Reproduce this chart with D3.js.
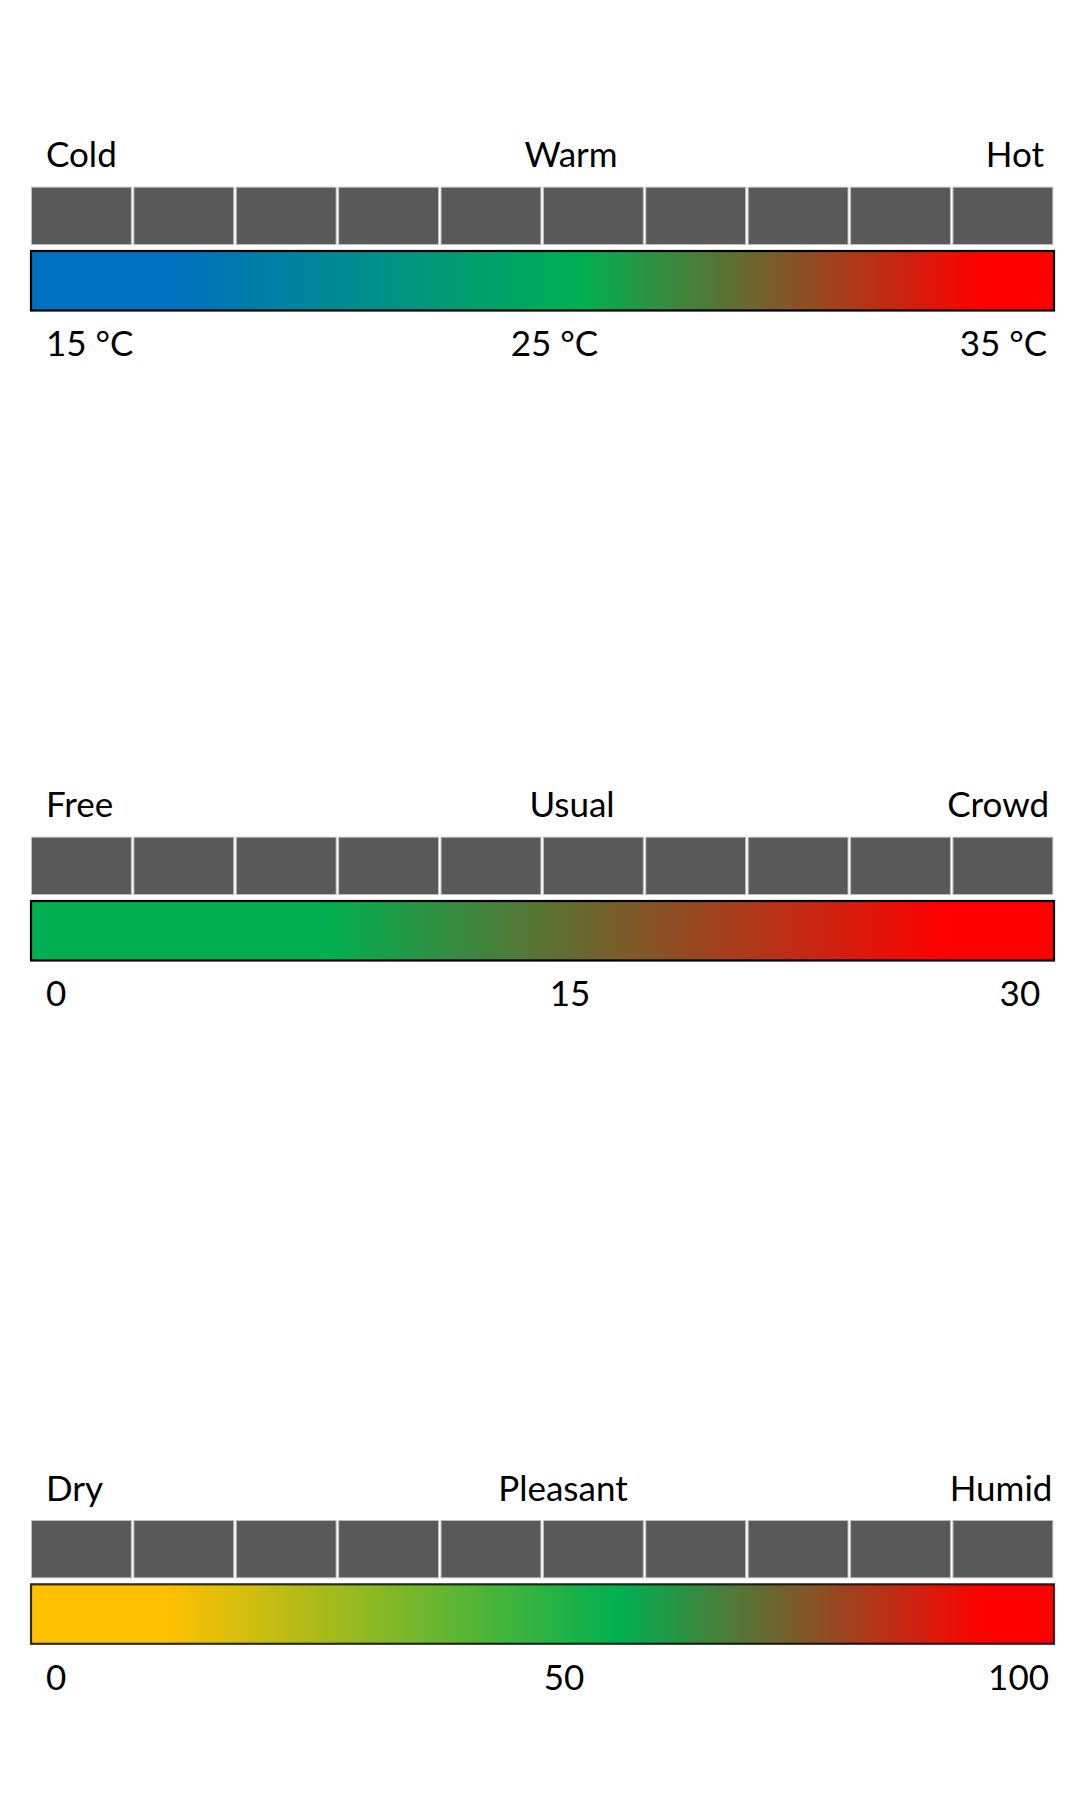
<!DOCTYPE html>
<html>
<head>
<meta charset="utf-8">
<script src="https://cdn.jsdelivr.net/npm/d3@7"></script>
<style>
  html, body { margin: 0; padding: 0; background: #ffffff; }
  svg { display: block; }
</style>
</head>
<body>
<script>
// ---------- data ----------
const scaleNames = ["Temperature", "Crowd", "Humidity"];
const domains = [[15, 35], [0, 30], [0, 100]];
const topLabels = [["Cold", "Warm", "Hot"], ["Free", "Usual", "Crowd"], ["Dry", "Pleasant", "Humid"]];
const tickLabels = [["15 °C", "25 °C", "35 °C"], ["0", "15", "30"], ["0", "50", "100"]];
const cellCount = 10;
// gradient colour stops: value on each scale where a colour is reached
const stopValues = [[17.8, 25.8, 33.6], [8.6, 26.9], [13.5, 57.6, 93.3]];
const stopColors = [["#0070C0", "#00B050", "#FF0000"], ["#00B050", "#FF0000"], ["#FFC000", "#00B050", "#FF0000"]];

// ---------- layout ----------
const W = 1081, H = 1802;
const X0 = 31, X1 = 1054;
const panelTop = [186.7, 836.7, 1520];
const cellH = 58.3, gradOff = 64.3, gradH = 59.5, labelOff = -19.5, tickOff = 169.5;
const leftX = 46;
const midLabelX = [[571, 554.5], [572, 570], [563, 564]];
const rightLabelX = [1044, 1049, 1052.4];
const rightTickX = [1047.2, 1040.2, 1049];

const svg = d3.select("body").append("svg").attr("width", W).attr("height", H);
const defs = svg.append("defs");
const font = "Lato, 'Open Sans', sans-serif";

scaleNames.forEach((name, i) => {
  const x = d3.scaleLinear().domain(domains[i]).range([X0, X1]);
  const band = d3.scaleBand().domain(d3.range(cellCount)).range([X0, X1 - 0.7]).paddingInner(0.015).paddingOuter(0);
  const y = panelTop[i];
  const g = svg.append("g").attr("class", "panel-" + name);

  // gradient
  const gid = "grad" + i;
  const lg = defs.append("linearGradient").attr("id", gid)
    .attr("gradientUnits", "userSpaceOnUse")
    .attr("x1", X0).attr("x2", X1).attr("y1", 0).attr("y2", 0);
  lg.selectAll("stop").data(stopValues[i].map((v, k) => ({v, c: stopColors[i][k]})))
    .join("stop")
    .attr("offset", d => ((x(d.v) - X0) / (X1 - X0)))
    .attr("stop-color", d => d.c);

  // cells
  g.selectAll("rect.cell").data(d3.range(cellCount)).join("rect")
    .attr("class", "cell")
    .attr("x", d => band(d) + 0.5)
    .attr("y", y + 0.5)
    .attr("width", band.bandwidth() - 1)
    .attr("height", cellH - 1)
    .attr("fill", "#595959")
    .attr("stroke", "#bdbdbd")
    .attr("stroke-width", 1);

  // gradient bar
  g.append("rect")
    .attr("x", X0).attr("y", y + gradOff)
    .attr("width", X1 - X0).attr("height", gradH)
    .attr("fill", `url(#${gid})`)
    .attr("stroke", "#000").attr("stroke-opacity", i === 2 ? 0.8 : 1)
    .attr("stroke-width", 2.2);

  // top labels
  const tl = topLabels[i];
  const lblY = y + labelOff;
  g.append("text").attr("x", leftX).attr("y", lblY).attr("text-anchor", "start").text(tl[0]);
  g.append("text").attr("x", midLabelX[i][0]).attr("y", lblY).attr("text-anchor", "middle").text(tl[1]);
  g.append("text").attr("x", rightLabelX[i]).attr("y", lblY).attr("text-anchor", "end").text(tl[2]);

  // tick labels
  const tk = tickLabels[i];
  const tkY = y + tickOff;
  g.append("text").attr("x", leftX).attr("y", tkY).attr("text-anchor", "start").text(tk[0]);
  g.append("text").attr("x", midLabelX[i][1]).attr("y", tkY).attr("text-anchor", "middle").text(tk[1]);
  g.append("text").attr("x", rightTickX[i]).attr("y", tkY).attr("text-anchor", "end").text(tk[2]);

  g.selectAll("text").attr("font-family", font).attr("font-size", 35).attr("fill", "#000");
});
</script>
</body>
</html>
